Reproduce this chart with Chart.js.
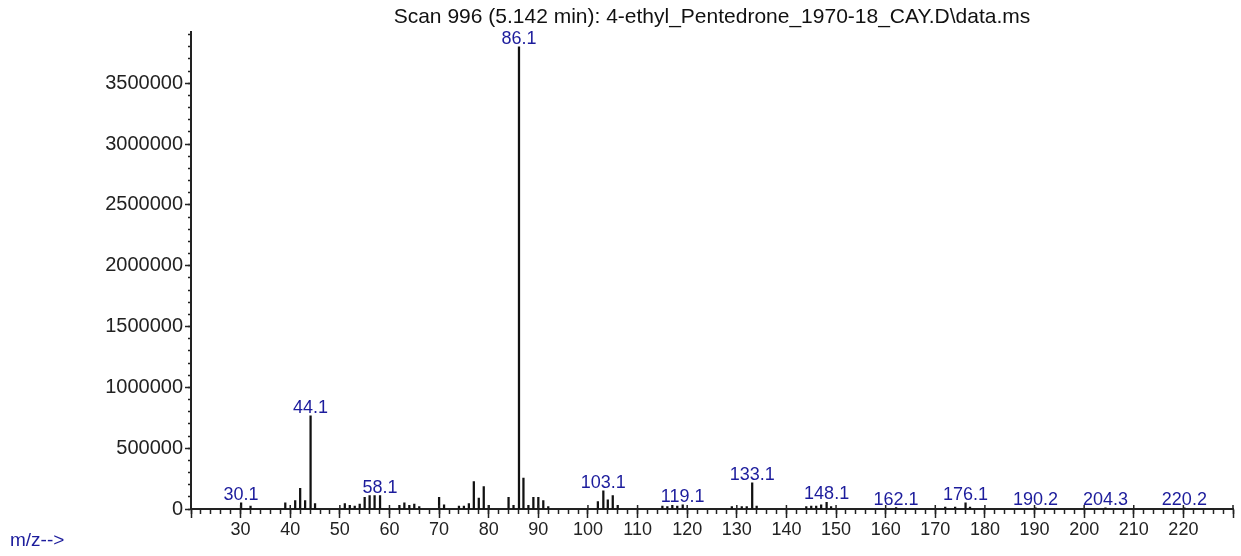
<!DOCTYPE html>
<html>
<head>
<meta charset="utf-8">
<script src="https://cdn.jsdelivr.net/npm/chart.js@4.4.1/dist/chart.umd.min.js"></script>
<style>
  html, body { margin: 0; padding: 0; background: #fff; }
</style>
</head>
<body>
<canvas id="espectro" width="1241" height="556"></canvas>
<script>
// Datos del espectro (m/z y abundancia)
const masas = [30.1, 32, 39, 41, 42, 43, 44.1, 45, 51, 52, 53, 54, 55, 56, 57, 58.1,
  62, 63, 64, 65, 66, 70, 71, 74, 75, 76, 77, 78, 79, 80, 84, 85, 86.1, 87, 88, 89, 90, 91, 92,
  102, 103.1, 104, 105, 106, 115, 116, 117, 118, 119.1, 129, 131, 132, 133.1, 134,
  144, 145, 146, 147, 148.1, 149, 162.1, 172, 174, 176.1, 177, 190.2, 204.3, 220.2];
const abundancias = [50000, 25000, 50000, 70000, 170000, 70000, 765000, 45000, 45000, 30000, 25000, 40000, 95000, 110000, 110000, 110000,
  30000, 50000, 30000, 40000, 20000, 95000, 35000, 25000, 25000, 45000, 225000, 90000, 185000, 30000, 95000, 30000, 3800000, 255000, 30000, 95000, 95000, 70000, 20000,
  60000, 150000, 75000, 110000, 30000, 25000, 20000, 30000, 25000, 35000, 20000, 20000, 20000, 215000, 25000,
  20000, 25000, 25000, 35000, 55000, 20000, 12000, 15000, 15000, 50000, 15000, 10000, 10000, 10000];

// Picos con etiqueta azul
const masasEtiquetadas = [30.1, 44.1, 58.1, 86.1, 103.1, 119.1, 133.1, 148.1, 162.1, 176.1, 190.2, 204.3, 220.2];

// Etiquetas de los ejes
const etiquetasX = [30, 40, 50, 60, 70, 80, 90, 100, 110, 120, 130, 140, 150, 160, 170, 180, 190, 200, 210, 220];
const etiquetasY = [0, 500000, 1000000, 1500000, 2000000, 2500000, 3000000, 3500000];

const titulo = 'Scan 996 (5.142 min): 4-ethyl_Pentedrone_1970-18_CAY.D\\data.ms';
const fuente = '"Liberation Sans", Arial, sans-serif';

// Marcas de los ejes: cada 10 / cada 2 en x, cada 500000 / 100000 en y
function marcas(min, max, paso) {
  const lista = [];
  for (let v = min; v <= max + 1e-9; v += paso) lista.push({ value: Math.round(v) });
  return lista;
}

// Etiquetas de picos, marcas que sobresalen del eje y texto m/z
const pluginEtiquetas = {
  id: 'etiquetas',
  afterDatasetsDraw(chart) {
    const { ctx, chartArea } = chart;
    const x = chart.scales.x;
    const y = chart.scales.y;
    ctx.save();

    // marcas mayores por encima del eje x
    ctx.strokeStyle = '#222';
    ctx.lineWidth = 1.5;
    x.ticks.forEach(t => {
      const px = x.getPixelForValue(t.value);
      ctx.beginPath();
      ctx.moveTo(px, chartArea.bottom);
      ctx.lineTo(px, chartArea.bottom - 4);
      ctx.stroke();
    });

    ctx.font = '18px ' + fuente;
    ctx.fillStyle = '#1c1c9c';
    ctx.textAlign = 'center';
    ctx.textBaseline = 'alphabetic';
    masasEtiquetadas.forEach(m => {
      const i = masas.indexOf(m);
      ctx.fillText(m.toFixed(1), x.getPixelForValue(m), y.getPixelForValue(abundancias[i]) - 3);
    });

    ctx.font = '19px ' + fuente;
    ctx.textAlign = 'left';
    ctx.textBaseline = 'middle';
    ctx.fillText('m/z-->', 10, 541);
    ctx.restore();
  }
};

const ctx = document.getElementById('espectro').getContext('2d');
new Chart(ctx, {
  type: 'bar',
  data: {
    datasets: [{
      data: masas.map((m, i) => ({ x: m, y: abundancias[i] })),
      backgroundColor: '#111',
      barThickness: 1.6,
      grouped: false
    }]
  },
  options: {
    responsive: false,
    animation: false,
    devicePixelRatio: 1,
    layout: { padding: { top: 0, right: 8, bottom: 0, left: 0 } },
    plugins: {
      legend: { display: false },
      tooltip: { enabled: false },
      title: {
        display: true,
        text: titulo,
        fullSize: false,
        color: '#111',
        font: { family: fuente, size: 21, weight: 'normal', lineHeight: 1.2 },
        padding: { top: 5, bottom: 2 }
      }
    },
    scales: {
      x: {
        type: 'linear',
        position: 'bottom',
        weight: 1,
        min: 20,
        max: 230,
        offset: false,
        afterFit: s => { s.height = 47; },
        afterBuildTicks: s => { s.ticks = marcas(20, 230, 10); },
        ticks: {
          autoSkip: false,
          maxRotation: 0,
          padding: 1,
          color: '#222',
          font: { family: fuente, size: 18 },
          callback: v => etiquetasX.includes(v) ? String(v) : ''
        },
        grid: { drawOnChartArea: false, offset: false, tickLength: 9, tickColor: '#222', tickWidth: 1.5 },
        border: { color: '#222', width: 2 }
      },
      xMenor: {
        type: 'linear',
        position: 'bottom',
        weight: 0,
        min: 20,
        max: 230,
        offset: false,
        afterFit: s => { s.height = 0; },
        afterBuildTicks: s => { s.ticks = marcas(20, 230, 2); },
        ticks: { autoSkip: false, maxRotation: 0, callback: () => '' },
        grid: { drawOnChartArea: false, offset: false, tickLength: 5, tickColor: '#222', tickWidth: 1.5 },
        border: { display: false }
      },
      y: {
        type: 'linear',
        position: 'left',
        weight: 1,
        min: 0,
        max: 3920000,
        afterFit: s => { s.width = 191; },
        afterBuildTicks: s => { s.ticks = etiquetasY.map(v => ({ value: v })); },
        ticks: {
          autoSkip: false,
          padding: 2,
          color: '#222',
          font: { family: fuente, size: 20 },
          callback: v => etiquetasY.includes(v) ? String(v) : ''
        },
        grid: { drawOnChartArea: false, tickLength: 6, tickColor: '#222', tickWidth: 1.5 },
        border: { color: '#222', width: 2 }
      },
      yMenor: {
        type: 'linear',
        position: 'left',
        weight: 0,
        min: 0,
        max: 3920000,
        afterFit: s => { s.width = 0; },
        afterBuildTicks: s => { s.ticks = marcas(0, 3900000, 100000); },
        ticks: { autoSkip: false, callback: () => '' },
        grid: { drawOnChartArea: false, tickLength: 3, tickColor: '#222', tickWidth: 1.5 },
        border: { display: false }
      }
    }
  },
  plugins: [pluginEtiquetas]
});
</script>
</body>
</html>
